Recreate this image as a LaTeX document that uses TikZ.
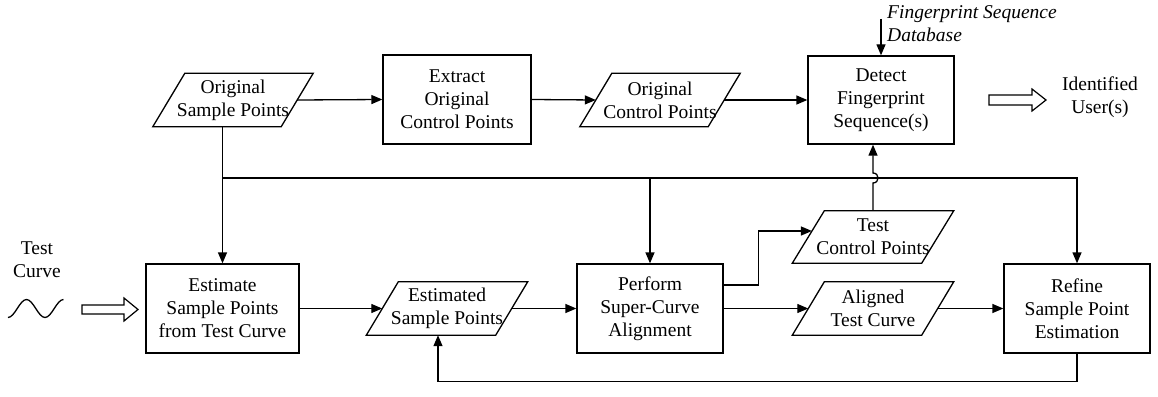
\documentclass[tikz,border=0pt]{standalone}
\usepackage{fontspec}
\setmainfont{Liberation Serif}
\usetikzlibrary{arrows.meta}
\tikzset{
  base/.style={font=\fontsize{19.5}{23}\selectfont, align=center, inner sep=0pt},
  box/.style={base, draw, line width=1.3pt, minimum width=#1, minimum height=89pt},
  para/.style={base, minimum width=#1, minimum height=53pt},
  conn/.style={line width=1.3pt, -{Triangle[length=11pt,width=9pt]}},
  plain/.style={line width=1.3pt},
  blockarrow/.style={line width=1.2pt, line join=miter},
}
\newcommand\parabox[1]{\draw[plain] ([xshift=16pt]#1.north west) -- ([xshift=16pt]#1.north east) -- ([xshift=-16pt]#1.south east) -- ([xshift=-16pt]#1.south west) -- cycle;}
\begin{document}
\begin{tikzpicture}[x=1pt,y=-1pt]
\useasboundingbox (0,0) rectangle (1158,396);

% nodes
\node[para=128pt] (osp) at (233,100) {Original\\Sample Points};
\node[box=148pt] (extract) at (457,99.5) {Extract\\Original\\Control Points};
\node[para=128pt] (ocp) at (660,100) {Original\\Control Points};
\node[box=146pt, minimum height=88pt] (detect) at (881,100) {Detect\\Fingerprint\\Sequence(s)};
\node[box=153pt] (est) at (222.5,308.5) {Estimate\\Sample Points\\from Test Curve};
\node[para=129pt] (esp) at (447,308.5) {Estimated\\Sample Points};
\node[box=146pt] (perform) at (650,308.5) {Perform\\Super-Curve\\Alignment};
\node[para=129pt, minimum height=52pt] (tcp) at (873,237) {Test\\Control Points};
\node[para=129pt] (atc) at (873,308.5) {Aligned\\Test Curve};
\node[box=146pt] (refine) at (1077,308.5) {Refine\\Sample Point\\Estimation};

\parabox{osp}
\parabox{ocp}
\parabox{esp}
\parabox{tcp}
\parabox{atc}

\node[base] (tc) at (37,260) {Test\\Curve};
\node[base] (iu) at (1100,97) {Identified\\User(s)};
\node[base, align=left, anchor=west, font={\fontsize{19.5}{23}\selectfont\itshape}] (dbtext) at (887,23.5) {Fingerprint Sequence\\Database};

% coordinates
\coordinate (db) at (881,19);
\coordinate (j) at (0,178);
\coordinate (fb) at (438,0);
\coordinate (tin) at ([xshift=3.6pt,yshift=6pt]tcp.west);
\coordinate (hb) at (tcp.north |- j);

% connectors
\draw[conn] (osp.east) -- (extract.west);
\draw[conn] (extract.east) -- (ocp.west);
\draw[conn] (ocp.east) -- (detect.west);
\draw[conn] (db) -- (detect.north);
\draw[conn] (osp.south -| est.north) -- (est.north);
\draw[conn] (est.north |- j) -| (refine.north);
\draw[conn] (perform.north |- j) -- (perform.north);
\draw[conn] (est.east) -- (esp.west);
\draw[conn] (esp.east) -- (perform.west);
\draw[conn] ([yshift=23.5pt]perform.east) -- ++(35,0) |- (tin);
\draw[conn] (perform.east) -- (atc.west);
\draw[conn] (atc.east) -- (refine.west);
\draw[conn] (refine.south) -- ++(0,27.5) -| (esp.south -| fb);
\draw[conn] (tcp.north) -- ([yshift=-5pt]hb) .. controls ([xshift=6.7pt,yshift=-5pt]hb) and ([xshift=6.7pt,yshift=5pt]hb) .. ([yshift=5pt]hb) -- (tcp.north |- detect.south);

% block arrows and curve
\draw[blockarrow] (82,305) -- (124,305) -- (124,298) -- (138,309.5) -- (124,321) -- (124,314) -- (82,314) -- cycle;
\draw[blockarrow] (989,95) -- (1032,95) -- (1032,89) -- (1046,100) -- (1032,111) -- (1032,105) -- (989,105) -- cycle;
\draw[plain] (8,317.5) cos (17.25,308.5) sin (26.5,299.5) cos (35.75,308.5) sin (45,317.5) cos (54.25,308.5) sin (63.5,299.5);
\end{tikzpicture}
\end{document}
